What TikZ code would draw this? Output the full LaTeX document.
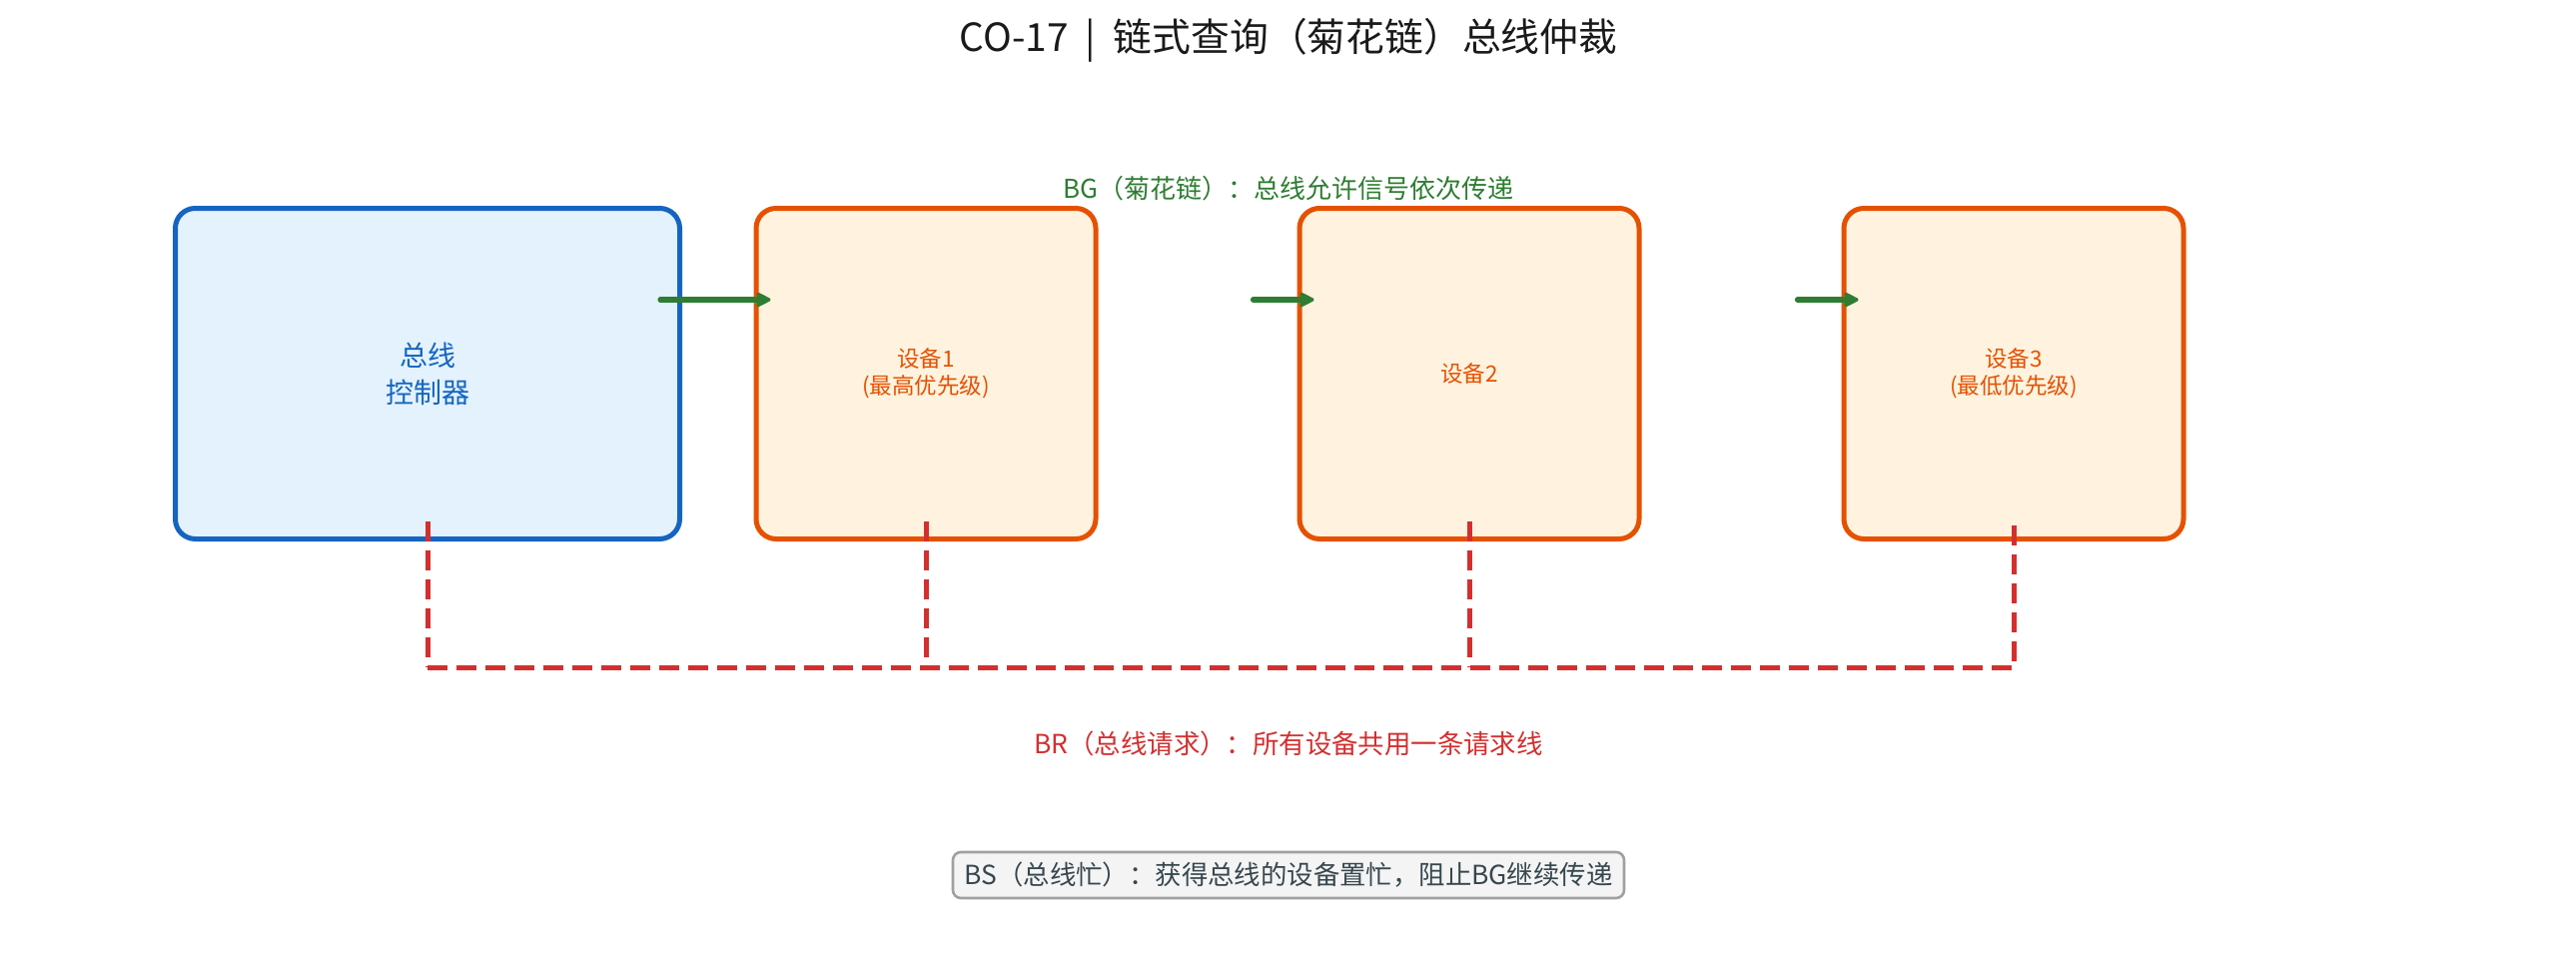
\documentclass[tikz,border=0pt]{standalone}
\usepackage{fontspec}
\setmainfont{Noto Sans CJK SC}
\usetikzlibrary{calc,arrows.meta}
\definecolor{ctrlblue}{HTML}{1565C0}
\definecolor{ctrlfill}{HTML}{E3F2FD}
\definecolor{devorange}{HTML}{E65100}
\definecolor{devfill}{HTML}{FFF3E0}
\definecolor{bggreen}{HTML}{2E7D32}
\definecolor{brred}{HTML}{D32F2F}
\definecolor{bsfill}{HTML}{F4F4F4}
\definecolor{bsdraw}{HTML}{A0A0A0}
\definecolor{bstext}{HTML}{37474F}
\definecolor{titletext}{HTML}{1A1A1A}
\tikzset{
  ctrlbox/.style={draw=ctrlblue, fill=ctrlfill, line width=2.5pt, rounded corners=10pt,
    minimum width=252.5pt, minimum height=165.5pt, inner sep=0pt, align=center,
    text=ctrlblue, font={\fontsize{14}{18.5}\selectfont}},
  devbox/.style={draw=devorange, fill=devfill, line width=2.5pt, rounded corners=10pt,
    minimum width=170pt, minimum height=165.5pt, inner sep=0pt, align=center,
    text=devorange, font={\fontsize{11.25}{13.5}\selectfont}},
  bgarrow/.style={draw=bggreen, line width=2.6pt, line cap=round,
    -{Stealth[length=9pt,width=9pt,inset=2pt,round]}},
  brline/.style={draw=brred, line width=2.5pt, dash pattern=on 10pt off 4.5pt},
  bglabel/.style={text=bggreen, font={\fontsize{13}{15}\selectfont}, inner sep=0pt},
  brlabel/.style={text=brred, font={\fontsize{13.2}{15}\selectfont}, inner sep=0pt},
  bsbox/.style={draw=bsdraw, fill=bsfill, line width=1.3pt, rounded corners=4pt,
    minimum width=336pt, minimum height=23pt, inner sep=0pt, text=bstext,
    font={\fontsize{13.2}{15}\selectfont}},
  titlestyle/.style={text=titletext, font={\fontsize{19.4}{22}\selectfont}, inner sep=0pt}
}
\begin{document}
\begin{tikzpicture}[x=0.5pt,y=-0.5pt]
\useasboundingbox[fill=white] (0,0) rectangle (2579,979);
\node[titlestyle] (title) at (1290,40) {CO-17\hspace{0.45em}|\hspace{0.45em}链式查询（菊花链）总线仲裁};
\node[ctrlbox] (ctrl) at (428,374) {总线\\控制器};
\node[devbox] (d1) at (927,374) {设备1\\(最高优先级)};
\node[devbox] (d2) at (1471,374) {设备2};
\node[devbox] (d3) at (2016,374) {设备3\\(最低优先级)};
\node[bglabel] (bglab) at (1290,189) {BG（菊花链）：总线允许信号依次传递};
\node[brlabel] (brlab) at (1290,744) {BR（总线请求）：所有设备共用一条请求线};
\node[bsbox] (bs) at (1290,876) {BS（总线忙）：获得总线的设备置忙，阻止BG继续传递};
% BG daisy chain arrows
\coordinate (g2) at ($(d2.west)+(-44,-74)$);
\coordinate (g3) at ($(d3.west)+(-44,-74)$);
\draw[bgarrow] ($(ctrl.east)+(-22,-74)$) -- ($(d1.west)+(17,-74)$);
\draw[bgarrow] (g2) -- ($(d2.west)+(17,-74)$);
\draw[bgarrow] (g3) -- ($(d3.west)+(17,-74)$);
% BR shared request line
\coordinate (busL) at ($(ctrl.south)+(0,126)$);
\coordinate (busR) at ($(d3.south)+(0,126)$);
\draw[brline] ($(ctrl.south)+(0,-20)$) -- (busL);
\draw[brline] ($(d1.south)+(0,-20)$) -- (d1.south |- busL);
\draw[brline] ($(d2.south)+(0,-20)$) -- (d2.south |- busL);
\draw[brline] ($(d3.south)+(0,-16)$) -- (busR);
\draw[brline] (busL) -- (busR);
\end{tikzpicture}
\end{document}
